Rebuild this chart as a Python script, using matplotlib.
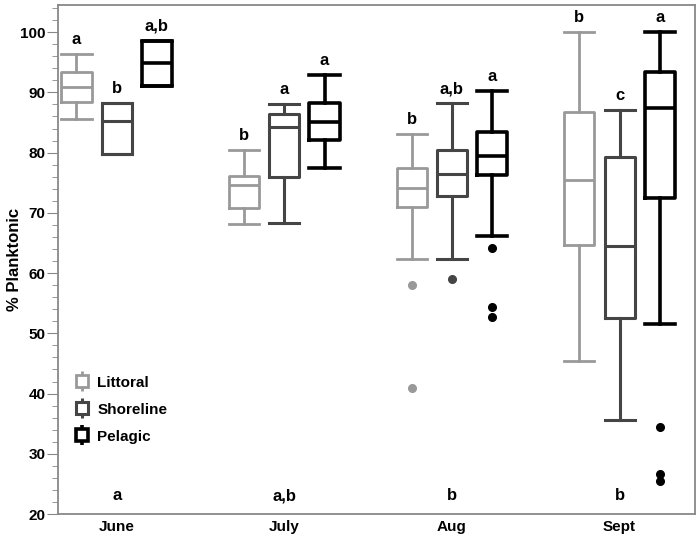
import matplotlib
matplotlib.use('Agg')
import matplotlib.pyplot as plt
from matplotlib.lines import Line2D
from matplotlib.ticker import MultipleLocator

plt.rcParams['font.family'] = ['Liberation Sans', 'DejaVu Sans']

months = ['June', 'July', 'Aug', 'Sept']
groups = ['Littoral', 'Shoreline', 'Pelagic']

# five-number summaries
lit_whislo = [85.5, 68.1, 62.4, 45.4]
lit_q1 = [88.4, 70.8, 70.9, 64.7]
lit_med = [90.9, 74.7, 74.1, 75.5]
lit_q3 = [93.4, 76.1, 77.5, 86.7]
lit_whishi = [96.3, 80.4, 83.1, 100.1]
lit_fliers = [[], [], [58.0, 41.0], []]

sho_whislo = [79.8, 68.3, 62.4, 35.6]
sho_q1 = [79.8, 76.0, 72.8, 52.6]
sho_med = [85.3, 84.3, 76.5, 64.5]
sho_q3 = [88.2, 86.4, 80.4, 79.3]
sho_whishi = [88.2, 88.0, 88.2, 87.0]
sho_fliers = [[], [], [59.0], []]

pel_whislo = [91.0, 77.4, 66.2, 51.5]
pel_q1 = [91.0, 82.1, 76.3, 72.4]
pel_med = [94.8, 85.1, 79.4, 87.4]
pel_q3 = [98.6, 88.3, 83.4, 93.4]
pel_whishi = [98.6, 92.9, 90.3, 100.1]
pel_fliers = [[], [], [64.2, 54.4, 52.7], [34.4, 26.6, 25.4]]

lit_letters = ['a', 'b', 'b', 'b']
sho_letters = ['b', 'a', 'a,b', 'c']
pel_letters = ['a,b', 'a', 'a', 'a']
month_letters = ['a', 'a,b', 'b', 'b']

series = [
    (lit_whislo, lit_q1, lit_med, lit_q3, lit_whishi, lit_fliers, lit_letters),
    (sho_whislo, sho_q1, sho_med, sho_q3, sho_whishi, sho_fliers, sho_letters),
    (pel_whislo, pel_q1, pel_med, pel_q3, pel_whishi, pel_fliers, pel_letters),
]
colors = ['#999999', '#454545', '#000000']
widths_lw = [2.0, 2.2, 2.6]
offsets = [-0.24, 0.0, 0.24]
box_w = 0.18

fig = plt.figure(figsize=(6.97, 5.36), dpi=100)
ax = fig.add_axes([0.0832, 0.041, 0.914, 0.9496])

for (wlo, q1, med, q3, whi, fl, letters), c, lw, off in zip(series, colors, widths_lw, offsets):
    stats = []
    for i in range(len(months)):
        stats.append(dict(whislo=wlo[i], q1=q1[i], med=med[i], q3=q3[i],
                          whishi=whi[i], fliers=fl[i]))
    pos = [i + off for i in range(len(months))]
    ax.bxp(stats, positions=pos, widths=box_w, capwidths=box_w, showfliers=True,
           boxprops=dict(color=c, linewidth=lw),
           medianprops=dict(color=c, linewidth=lw),
           whiskerprops=dict(color=c, linewidth=lw),
           capprops=dict(color=c, linewidth=lw),
           flierprops=dict(marker='o', markerfacecolor=c, markeredgecolor=c,
                           markersize=5.5, linestyle='none'))
    for p, top, lab in zip(pos, whi, letters):
        ax.text(p, top + 2.4, lab, ha='center', va='center', fontsize=12,
                fontweight='bold')

for i, lab in enumerate(month_letters):
    ax.text(i, 23.0, lab, ha='center', va='center', fontsize=12, fontweight='bold')

ax.set_xlim(-0.35, 3.45)
ax.set_ylim(20, 104.5)
ax.set_xticks(range(len(months)))
ax.set_xticklabels(months, fontsize=11, fontweight='bold')
ax.tick_params(axis='x', length=0, pad=4)
ax.yaxis.set_major_locator(MultipleLocator(10))
ax.yaxis.set_minor_locator(MultipleLocator(2))
ax.set_yticks(range(20, 101, 10))
ax.tick_params(axis='y', which='major', length=8, color='#888888', labelsize=11, pad=1)
ax.tick_params(axis='y', which='minor', length=4, color='#888888')
for t in ax.get_yticklabels():
    t.set_fontweight('bold')
ax.set_ylabel('% Planktonic', fontsize=12, fontweight='bold')
ax.yaxis.set_label_coords(-0.056, 0.5)
for s in ax.spines.values():
    s.set_color('#888888')
    s.set_linewidth(1.3)

handles = []
for c, lw in zip(colors, widths_lw):
    handles.append((Line2D([], [], marker='|', markersize=14, markeredgewidth=lw,
                           color=c, linestyle='none'),
                    Line2D([], [], marker='s', markersize=8, markerfacecolor='white',
                           markeredgecolor=c, markeredgewidth=lw, linestyle='none')))
ax.legend(handles, groups, loc='upper left', bbox_to_anchor=(0.026, 0.272),
          frameon=False, borderpad=0, borderaxespad=0, handlelength=1.0,
          handletextpad=0.5, labelspacing=0.85, prop=dict(size=11, weight='bold'))

fig.savefig('out.png', dpi=100)
